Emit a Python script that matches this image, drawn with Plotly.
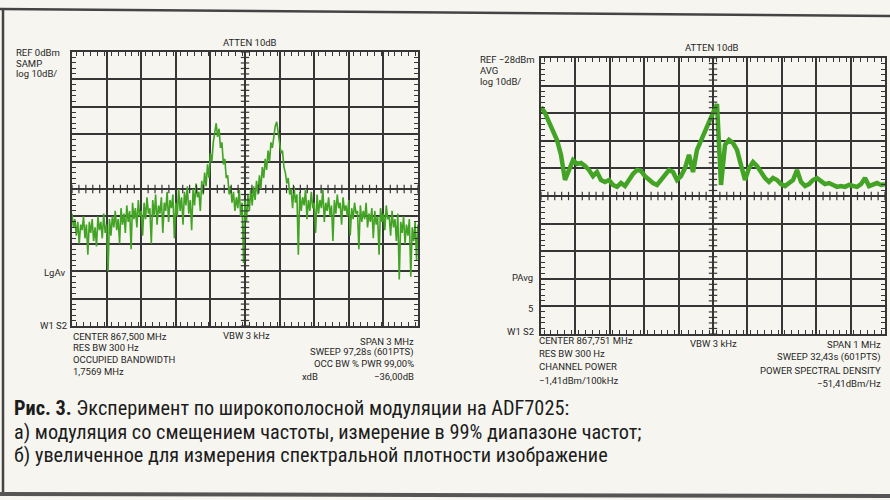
import plotly.graph_objects as go

# ---- Panel (a): wideband FSK, span 3 MHz around 867.5 MHz ----
center_a_mhz = 867.5
span_a_mhz = 3.0
ref_a_dbm = 0.0
level_a_dbm = [
    -59, -64, -61, -67, -62, -70, -63, -65, -60, -68,
    -63, -74, -62, -66, -61, -69, -64, -71, -60, -65,
    -62, -68, -59, -66, -63, -80, -61, -67, -60, -64,
    -58, -65, -61, -70, -57, -63, -59, -66, -56, -62,
    -58, -72, -55, -61, -57, -64, -54, -60, -58, -67,
    -55, -61, -53, -59, -57, -70, -54, -60, -52, -63,
    -56, -59, -53, -66, -55, -58, -51, -62, -54, -57,
    -52, -68, -55, -60, -50, -58, -53, -63, -51, -56,
    -49, -59, -54, -65, -50, -56, -48, -53, -51, -58,
    -47, -52, -44, -49, -41, -46, -37, -40, -33, -30,
    -26, -31, -28, -35, -33, -41, -39, -46, -45, -52,
    -49, -55, -51, -58, -53, -57, -50, -60, -55, -77,
    -54, -62, -52, -58, -50, -56, -49, -54, -47, -52,
    -45, -50, -42, -46, -39, -43, -36, -40, -33, -35,
    -30, -27, -25.5, -30, -33, -37, -36, -42, -44, -48,
    -46, -52, -50, -57, -49, -55, -52, -74, -51, -58,
    -53, -56, -50, -61, -54, -58, -51, -57, -55, -66,
    -52, -59, -54, -57, -50, -62, -55, -58, -53, -60,
    -56, -69, -54, -59, -52, -57, -55, -63, -53, -58,
    -56, -60, -54, -67, -57, -61, -55, -59, -58, -72,
    -56, -62, -58, -61, -55, -64, -59, -62, -57, -68,
    -58, -63, -60, -74, -57, -62, -59, -65, -56, -61,
    -60, -67, -58, -64, -61, -69, -59, -83, -62, -66,
    -60, -70, -63, -67, -61, -82, -64, -69, -62, -76,
    -63,
]

# ---- Panel (b): zoomed view, span 1 MHz around 867.751 MHz ----
center_b_mhz = 867.751
span_b_mhz = 1.0
ref_b_dbm = -28.0
level_b_dbm = [
    -45.8, -47.9, -51.2, -54.1, -57.7, -63.1, -72.2, -68.6, -65.0, -66.4,
    -66.0, -67.1, -68.6, -70.8, -69.3, -72.2, -72.9, -72.2, -74.0, -74.7,
    -73.3, -74.4, -72.2, -70.0, -68.6, -68.9, -70.8, -72.2, -73.3, -74.0,
    -72.2, -70.0, -68.6, -69.3, -72.2, -70.8, -67.9, -63.1, -69.3, -61.3,
    -57.7, -54.1, -51.2, -47.9, -44.7, -74.0, -59.5, -57.7, -58.8, -61.3,
    -66.8, -72.2, -67.9, -65.7, -67.1, -69.3, -71.5, -72.9, -71.5, -72.2,
    -73.7, -74.4, -73.3, -72.2, -68.6, -72.9, -74.4, -73.7, -72.2, -71.5,
    -72.6, -73.7, -73.3, -74.0, -74.7, -74.4, -74.7, -74.0, -74.4, -74.7,
    -73.7, -71.5, -74.4, -74.0, -73.3, -74.0, -73.7,
]

DB_PER_DIV = 10
DIVS = 10
MINOR_PER_DIV = 5

W, H = 890, 500
BG = "#f6f5f0"
GRID = "#363636"
TRACE = "#42a325"
LABEL_FONT = "Roboto, Liberation Sans, sans-serif"
CAPTION_FONT = "Roboto Condensed, Liberation Sans Narrow, Roboto, sans-serif"


def freq_axis(center, span, n):
    return [center - span / 2 + span * k / (n - 1) for k in range(n)]


def px(x):
    return x / W


def py(y):
    return 1 - y / H


fig = go.Figure()

freq_a = freq_axis(center_a_mhz, span_a_mhz, len(level_a_dbm))
freq_b = freq_axis(center_b_mhz, span_b_mhz, len(level_b_dbm))

fig.add_trace(go.Scatter(x=freq_a, y=level_a_dbm, mode="lines",
                         line=dict(color=TRACE, width=1.6), xaxis="x", yaxis="y",
                         hoverinfo="skip", showlegend=False))
fig.add_trace(go.Scatter(x=freq_b, y=level_b_dbm, mode="lines",
                         line=dict(color=TRACE, width=4.5), xaxis="x2", yaxis="y2",
                         hoverinfo="skip", showlegend=False))

# graticule centre lines carry minor ticks
for (cx, span, ref, xa, ya) in [
    (center_a_mhz, span_a_mhz, ref_a_dbm, "x", "y"),
    (center_b_mhz, span_b_mhz, ref_b_dbm, "x2", "y2"),
]:
    ymid = ref - DB_PER_DIV * DIVS / 2
    n_minor = DIVS * MINOR_PER_DIV
    ys = [ref - DB_PER_DIV * DIVS * k / n_minor for k in range(n_minor + 1)]
    xs = [cx - span / 2 + span * k / n_minor for k in range(n_minor + 1)]
    fig.add_trace(go.Scatter(x=[cx] * len(ys), y=ys, mode="markers",
                             marker=dict(symbol="line-ew", size=6,
                                         line=dict(color=GRID, width=1.2)),
                             xaxis=xa, yaxis=ya, hoverinfo="skip", showlegend=False))
    fig.add_trace(go.Scatter(x=xs, y=[ymid] * len(xs), mode="markers",
                             marker=dict(symbol="line-ns", size=6,
                                         line=dict(color=GRID, width=1.2)),
                             xaxis=xa, yaxis=ya, hoverinfo="skip", showlegend=False))


def axis_style(rng, dtick, domain, anchor):
    return dict(
        range=rng, tick0=rng[0], dtick=dtick, domain=domain, anchor=anchor,
        showgrid=True, gridcolor=GRID, gridwidth=1.5, zeroline=False,
        showline=True, linecolor=GRID, linewidth=1.8, mirror="allticks",
        ticks="inside", ticklen=0, showticklabels=False,
        minor=dict(ticks="inside", ticklen=4, dtick=dtick / MINOR_PER_DIV,
                   tickcolor=GRID, tickwidth=1.1, showgrid=False),
        fixedrange=True,
    )


fig.update_layout(
    width=W, height=H, margin=dict(l=0, r=0, t=0, b=0),
    paper_bgcolor=BG, plot_bgcolor=BG,
    xaxis=axis_style([center_a_mhz - span_a_mhz / 2, center_a_mhz + span_a_mhz / 2],
                     span_a_mhz / DIVS, [px(72), px(418)], "y"),
    yaxis=axis_style([ref_a_dbm - DB_PER_DIV * DIVS, ref_a_dbm], DB_PER_DIV,
                     [py(326), py(52)], "x"),
    xaxis2=axis_style([center_b_mhz - span_b_mhz / 2, center_b_mhz + span_b_mhz / 2],
                      span_b_mhz / DIVS, [px(541), px(885)], "y2"),
    yaxis2=axis_style([ref_b_dbm - DB_PER_DIV * DIVS, ref_b_dbm], DB_PER_DIV,
                      [py(334), py(58)], "x2"),
)


def label(text, x, y, anchor="left", size=9.5, color="#262626", font=LABEL_FONT):
    fig.add_annotation(text=text, x=px(x), y=py(y), xref="paper", yref="paper",
                       xanchor=anchor, yanchor="middle", showarrow=False,
                       font=dict(family=font, size=size, color=color))


# panel (a) instrument annotations
label("ATTEN 10dB", 250, 43, "center")
label("REF 0dBm", 14, 53)
label("SAMP", 14, 63)
label("log 10dB/", 14, 73)
label("LgAv", 67, 272, "right")
label("W1 S2", 69, 325, "right")
label("CENTER 867,500 MHz", 71, 336)
label("RES BW 300 Hz", 71, 347)
label("OCCUPIED BANDWIDTH", 71, 359)
label("1,7569 MHz", 71, 371)
label("VBW 3 kHz", 246, 335, "center")
label("SPAN 3 MHz", 416, 341, "right")
label("SWEEP 97,28s (601PTS)", 416, 352, "right")
label("OCC BW % PWR 99,00%", 416, 363, "right")
label("xdB", 300, 376)
label("\u221236,00dB", 416, 376, "right")

# panel (b) instrument annotations
label("ATTEN 10dB", 712, 48, "center")
label("REF \u221228dBm", 478, 59)
label("AVG", 478, 70)
label("log 10dB/", 478, 81)
label("PAvg", 535, 277, "right")
label("5", 535, 308, "right")
label("W1 S2", 536, 331, "right")
label("CENTER 867,751 MHz", 537, 340)
label("RES BW 300 Hz", 537, 353)
label("CHANNEL POWER", 537, 366)
label("\u22121,41dBm/100kHz", 537, 380)
label("VBW 3 kHz", 713, 343, "center")
label("SPAN 1 MHz", 883, 344, "right")
label("SWEEP 32,43s (601PTS)", 883, 357, "right")
label("POWER SPECTRAL DENSITY", 883, 370, "right")
label("\u221251,41dBm/Hz", 883, 383, "right")

# figure caption
label("<b>Рис. 3.</b> Эксперимент по широкополосной модуляции на ADF7025:",
      12, 408, size=20.3, color="#1c1c1c", font=CAPTION_FONT)
label("а) модуляция со смещением частоты, измерение в 99% диапазоне частот;",
      12, 432, size=20.3, color="#1c1c1c", font=CAPTION_FONT)
label("б) увеличенное для измерения спектральной плотности изображение",
      12, 455, size=20.3, color="#1c1c1c", font=CAPTION_FONT)

# page frame around the figure
frame = dict(type="line", xref="paper", yref="paper", line=dict(color="#444444", width=2.5))
fig.add_shape(**frame, x0=px(0), y0=py(9), x1=px(890), y1=py(16))
fig.add_shape(**frame, x0=px(3), y0=py(9), x1=px(3), y1=py(494))
fig.add_shape(**{**frame, "line": dict(color="#555555", width=4)},
              x0=px(0), y0=py(494), x1=px(890), y1=py(496))

fig.write_html("out.html")
